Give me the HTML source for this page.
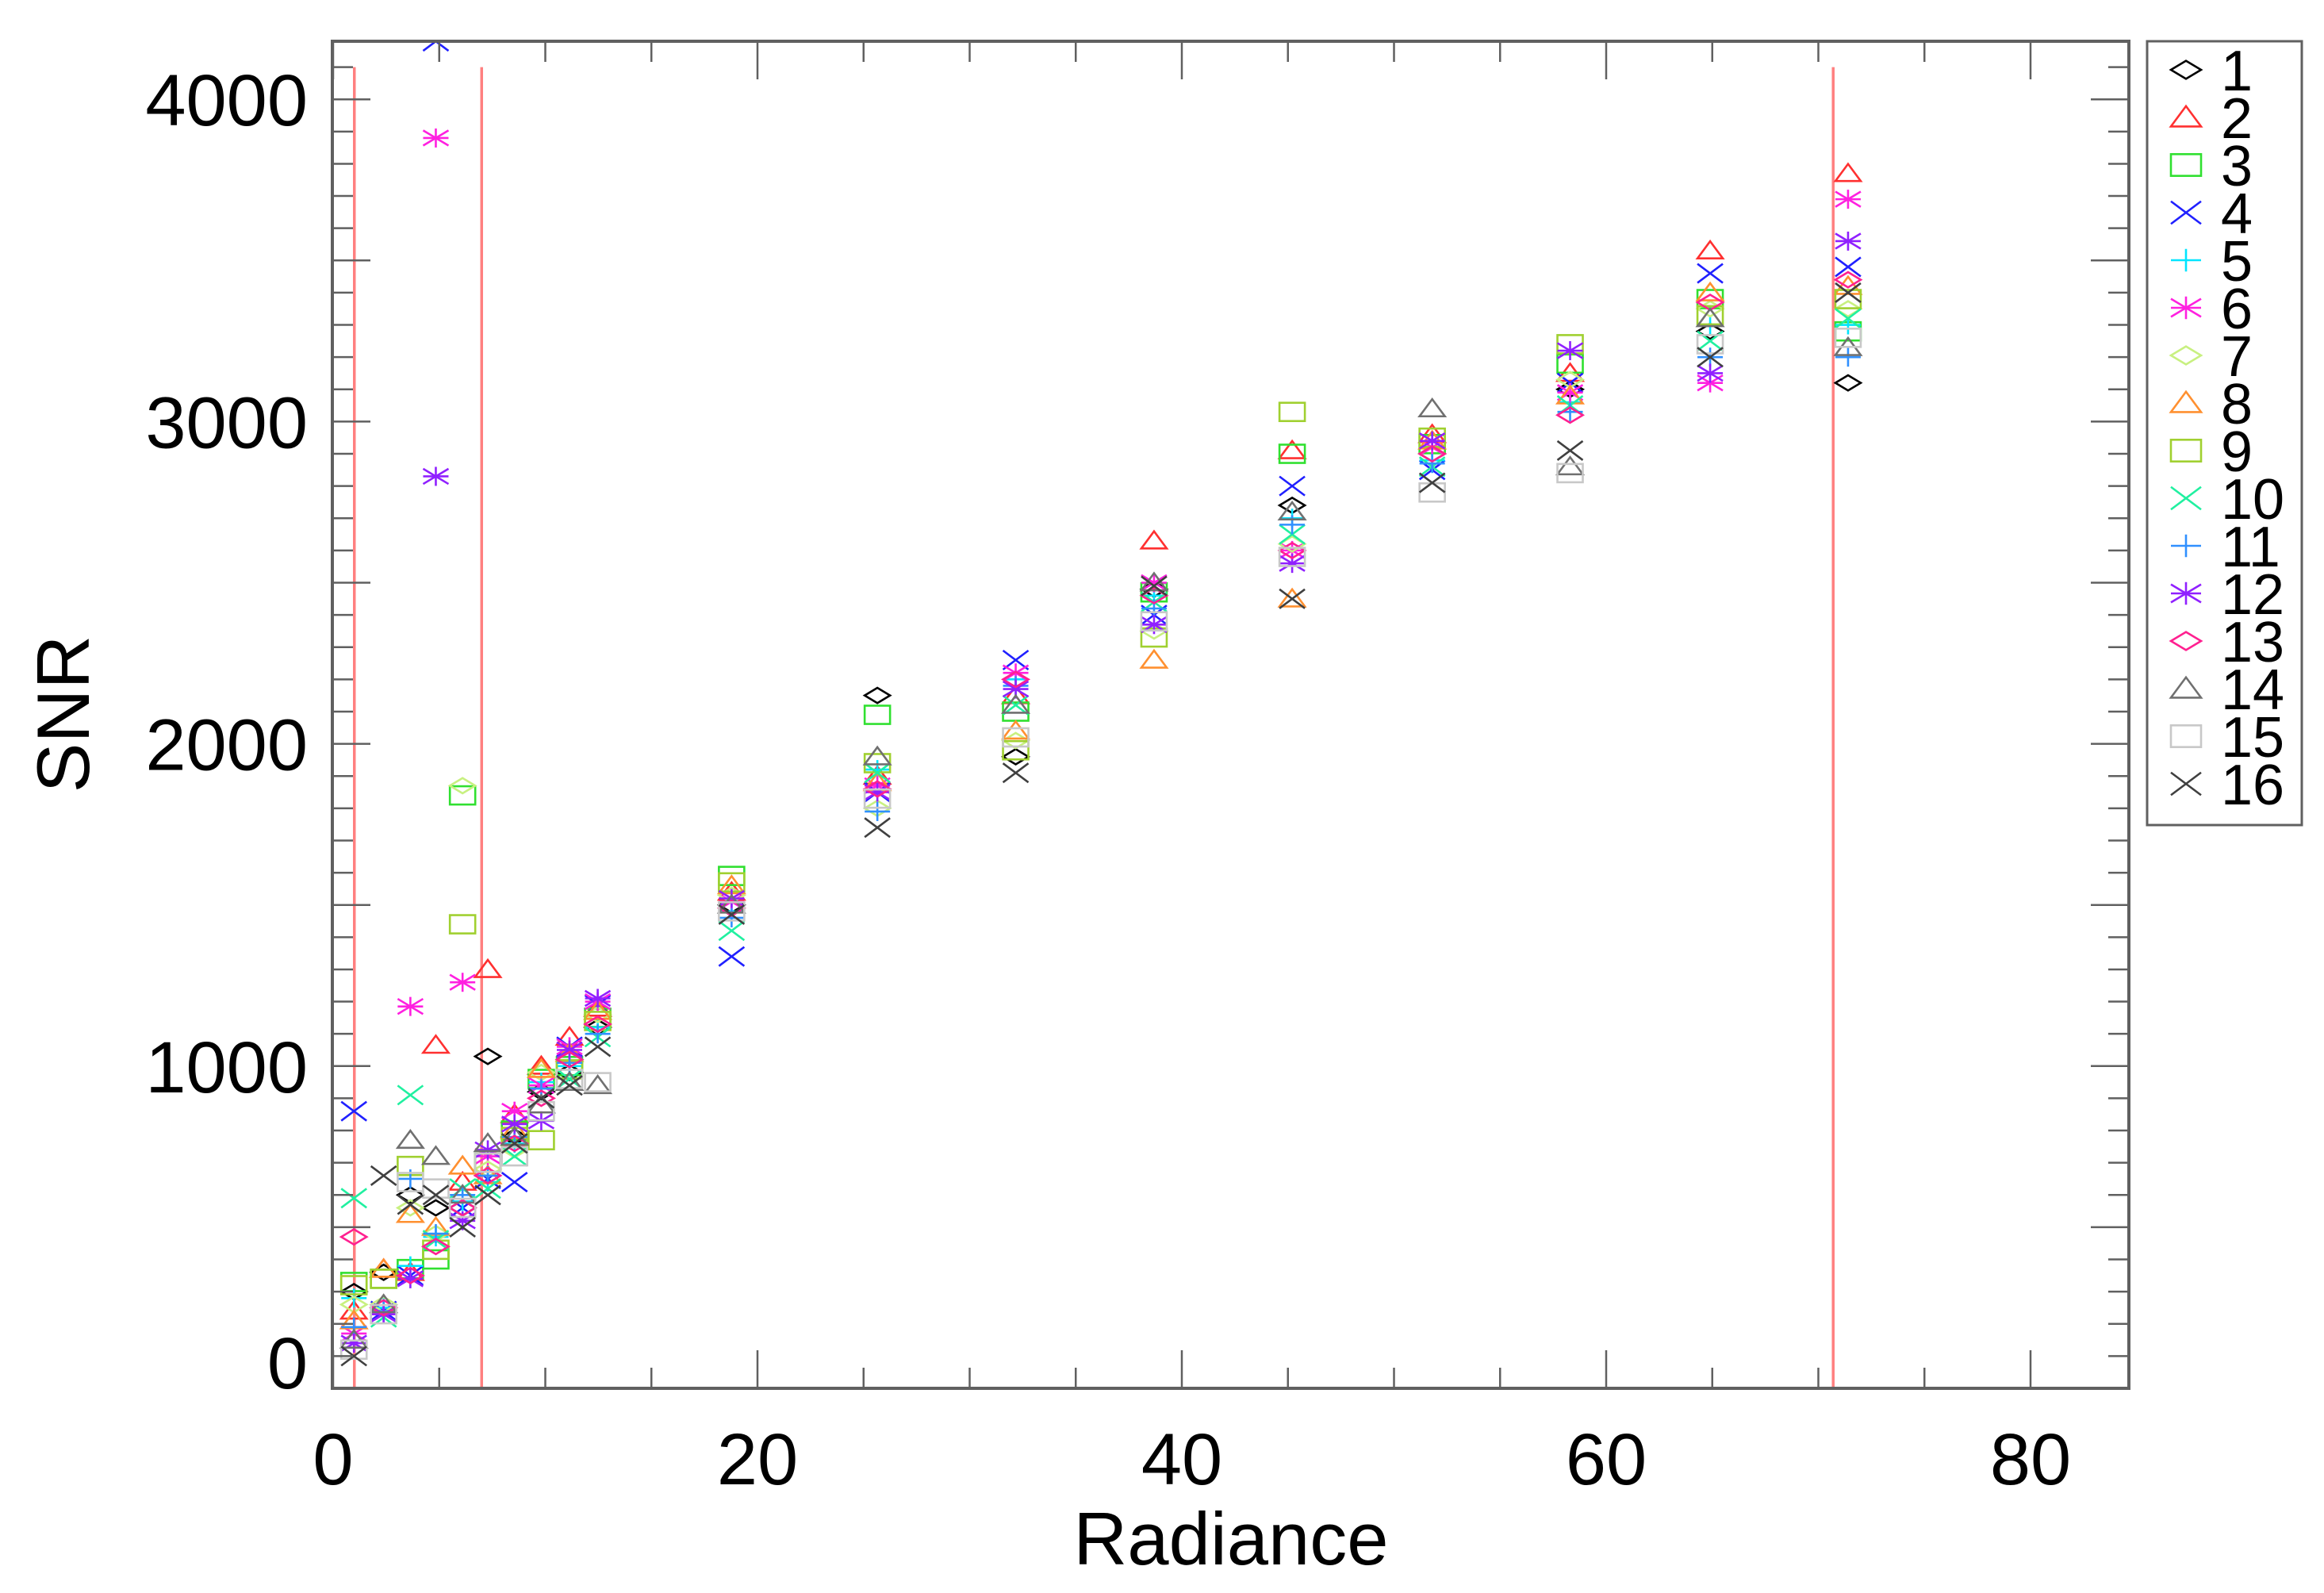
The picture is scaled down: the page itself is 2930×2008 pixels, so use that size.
<!DOCTYPE html>
<html><head><meta charset="utf-8"><style>
html,body{margin:0;padding:0;background:#fff;}
svg{display:block;font-family:"Liberation Sans",sans-serif;}
</style></head><body>
<svg id="chart" width="2930" height="2008" viewBox="0 0 2930 2008" xmlns="http://www.w3.org/2000/svg">
<rect x="0" y="0" width="2930" height="2008" fill="#fff"/>
<g id="grid"></g>
<g id="refLines"></g>
<g id="marks"></g>
<g id="axes"></g>
<g id="legend"></g>
</svg>
<script>
const radiance = [0.98, 2.38, 3.64, 4.84, 6.1, 7.29, 8.55, 9.81, 11.14, 12.47, 18.78, 25.65, 32.17, 38.69, 45.2, 51.8, 58.3, 64.9, 71.4];
const s1  = [300, 360, 600, 560, 560, 1030, 780, 920, 980, 1120, 1500, 2150, 1960, 2480, 2740, 2900, 3100, 3280, 3120];
const s2  = [240, 370, 360, 1065, 640, 1300, 850, 1000, 1090, 1180, 1540, 1900, 2150, 2630, 2910, 2960, 3150, 3530, 3770];
const s3  = [330, 340, 370, 400, 1840, 700, 800, 960, 1000, 1150, 1590, 2090, 2100, 2470, 2900, 2930, 3180, 3380, 3280];
const s4  = [860, 240, 350, 4180, 560, 650, 640, 900, 1060, 1190, 1340, 1850, 2260, 2400, 2800, 2850, 3120, 3460, 3480];
const s5  = [280, 250, 380, 470, 580, 640, 760, 950, 1000, 1120, 1480, 1920, 2200, 2460, 2700, 2880, 3060, 3300, 3300];
const s6  = [170, 230, 1185, 3880, 1260, 720, 860, 940, 1060, 1200, 1510, 1870, 2220, 2500, 2600, 2920, 3090, 3120, 3690];
const s7  = [260, 260, 560, 480, 1870, 680, 740, 980, 1020, 1160, 1530, 1800, 2010, 2350, 2620, 2900, 3130, 3350, 3350];
const s8  = [210, 370, 540, 500, 690, 660, 800, 990, 1040, 1170, 1560, 1880, 2040, 2260, 2450, 2940, 3080, 3400, 3420];
const s9  = [320, 340, 690, 430, 1440, 700, 780, 770, 990, 1140, 1570, 1940, 1980, 2330, 3030, 2950, 3240, 3330, 3380];
const s10 = [590, 220, 910, 460, 620, 620, 720, 900, 960, 1090, 1420, 1910, 2120, 2440, 2650, 2860, 3050, 3250, 3320];
const s11 = [190, 240, 650, 480, 600, 660, 780, 930, 1010, 1100, 1460, 1790, 2180, 2420, 2680, 2870, 3030, 3200, 3200];
const s12 = [140, 230, 340, 2830, 520, 740, 820, 830, 1050, 1210, 1520, 1850, 2170, 2370, 2560, 2940, 3220, 3150, 3560];
const s13 = [470, 250, 350, 440, 560, 660, 760, 900, 1020, 1130, 1490, 1860, 2200, 2460, 2600, 2900, 3020, 3370, 3440];
const s14 = [150, 260, 770, 720, 600, 760, 780, 880, 950, 940, 1500, 1960, 2120, 2500, 2720, 3040, 2860, 3320, 3230];
const s15 = [120, 230, 640, 620, 560, 700, 720, 860, 960, 950, 1480, 1830, 2020, 2380, 2580, 2780, 2840, 3240, 3260];
const s16 = [100, 660, 570, 600, 500, 600, 760, 900, 940, 1060, 1470, 1740, 1910, 2490, 2450, 2810, 2910, 3200, 3400];
const seriesValues = [s1, s2, s3, s4, s5, s6, s7, s8, s9, s10, s11, s12, s13, s14, s15, s16];
const seriesLabels = ["1","2","3","4","5","6","7","8","9","10","11","12","13","14","15","16"];
const xTickLabels = ["0","20","40","60","80"];
const yTickLabels = ["0","1000","2000","3000","4000"];
const refLineX = [1.0, 7.0, 70.7];

const colors = ["#000000","#ff3030","#30e030","#2020ff","#00e5ff","#ff20e0","#c8f080","#ff9030","#a0d030","#20f0a0","#3090ff","#9020ff","#ff2090","#707070","#c8c8c8","#404040"];
const symbols = ["diamond","triangle","square","x","plus","asterisk"];

const PL = 419, PR = 2684, PT = 52, PB = 1750;
const X0 = 420, XS = 26.75, YS = 0.4062;
function xScale(v){ return X0 + v * XS; }
function yScale(v){ return PB - v * YS; }
const NS = "http://www.w3.org/2000/svg";
function mk(tag, attrs, parent){
  const e = document.createElementNS(NS, tag);
  for (const k in attrs) e.setAttribute(k, attrs[k]);
  parent.appendChild(e);
  return e;
}
function marker(parent, kind, cx, cy, col, r){
  const g = mk("g", {fill:"none", stroke:col, "stroke-width":2.6}, parent);
  if (kind === "diamond") mk("polygon", {points:`${cx-r},${cy} ${cx},${cy-r*0.6} ${cx+r},${cy} ${cx},${cy+r*0.6}`}, g);
  else if (kind === "triangle") mk("polygon", {points:`${cx-r},${cy+r*0.6} ${cx},${cy-r*0.75} ${cx+r},${cy+r*0.6}`}, g);
  else if (kind === "square") mk("rect", {x:cx-r, y:cy-r*0.72, width:2*r, height:1.44*r}, g);
  else if (kind === "x") { mk("line",{x1:cx-r,y1:cy-r*0.75,x2:cx+r,y2:cy+r*0.75},g); mk("line",{x1:cx-r,y1:cy+r*0.75,x2:cx+r,y2:cy-r*0.75},g); }
  else if (kind === "plus") { mk("line",{x1:cx-r,y1:cy,x2:cx+r,y2:cy},g); mk("line",{x1:cx,y1:cy-r*0.75,x2:cx,y2:cy+r*0.75},g); }
  else { mk("line",{x1:cx-r,y1:cy-r*0.6,x2:cx+r,y2:cy+r*0.6},g); mk("line",{x1:cx-r,y1:cy+r*0.6,x2:cx+r,y2:cy-r*0.6},g); mk("line",{x1:cx-r,y1:cy,x2:cx+r,y2:cy},g); mk("line",{x1:cx,y1:cy-r*0.75,x2:cx,y2:cy+r*0.75},g); }
  return g;
}

const refG = document.getElementById("refLines");
refLineX.forEach((v, i) => {
  const l = mk("line", {x1:xScale(v), x2:xScale(v), y1:yScale(4100), y2:PB, stroke:"#ff8080", "stroke-width":3.5}, refG);
  
  
});

const marksG = document.getElementById("marks");
seriesValues.forEach((vals, si) => {
  const sg = mk("g", {}, marksG);
  
  
  vals.forEach((v, i) => {
    const m = marker(sg, symbols[si % 6], xScale(radiance[i]), yScale(v), colors[si], 16);
    
    
  });
});
const defs = mk("defs", {}, document.getElementById("chart"));
const cp = mk("clipPath", {id:"plotclip"}, defs);
mk("rect", {x:PL, y:PT, width:PR-PL, height:PB-PT}, cp);
marksG.setAttribute("clip-path", "url(#plotclip)");

const ax = document.getElementById("axes");
const frame = mk("rect", {x:PL, y:PT, width:PR-PL, height:PB-PT, fill:"none", stroke:"#606060", "stroke-width":4}, ax);


for (let v = 0; v <= 84; v += 5) {
  const x = xScale(v), len = (v % 20 === 0) ? 48 : 26;
  mk("line", {x1:x, x2:x, y1:PB, y2:PB-len, stroke:"#606060", "stroke-width":2.5}, ax);
  mk("line", {x1:x, x2:x, y1:PT, y2:PT+len, stroke:"#606060", "stroke-width":2.5}, ax);
}
for (let v = 0; v <= 4100; v += 100) {
  const y = yScale(v), len = (v % 500 === 0) ? 48 : 26;
  mk("line", {x1:PL, x2:PL+len, y1:y, y2:y, stroke:"#606060", "stroke-width":2.5}, ax);
  mk("line", {x1:PR, x2:PR-len, y1:y, y2:y, stroke:"#606060", "stroke-width":2.5}, ax);
}
xTickLabels.forEach((t) => {
  const tx = mk("text", {x:xScale(+t), y:1871, "font-size":92, "text-anchor":"middle", fill:"#000"}, ax);
  tx.textContent = t;
  
  
});
yTickLabels.forEach((t) => {
  const yy = (+t === 0) ? 1717 : yScale(+t);
  const tx = mk("text", {x:388, y:yy+33, "font-size":92, "text-anchor":"end", fill:"#000"}, ax);
  tx.textContent = t;
  
  
});
const xt = mk("text", {x:1552, y:1972, "font-size":94, "text-anchor":"middle", fill:"#000"}, ax);
xt.textContent = "Radiance";


const yt = mk("text", {x:0, y:0, "font-size":94, "text-anchor":"middle", fill:"#000", transform:"translate(112,900) rotate(-90)"}, ax);
yt.textContent = "SNR";



const lg = document.getElementById("legend");
const box = mk("rect", {x:2707, y:52, width:195, height:988, fill:"#fff", stroke:"#606060", "stroke-width":3}, lg);


seriesLabels.forEach((lab, i) => {
  const cy = 88 + i * 60;
  const eg = mk("g", {}, lg);
  
  
  marker(eg, symbols[i % 6], 2756, cy, colors[i], 19);
  const tx = mk("text", {x:2800, y:cy+26, "font-size":72, fill:"#000"}, eg);
  tx.textContent = lab;
});
</script>
</body></html>
